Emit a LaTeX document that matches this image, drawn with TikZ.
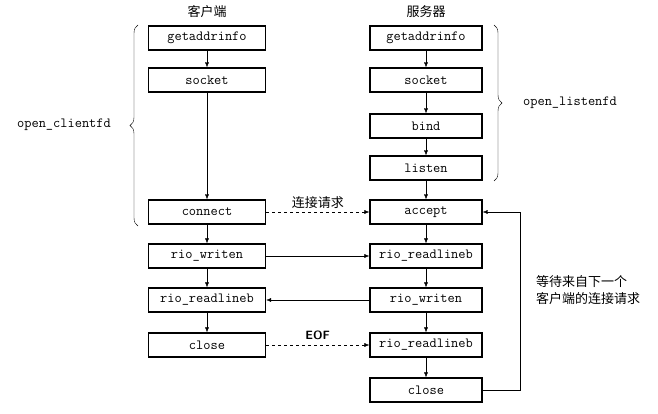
\documentclass[tikz,border=0pt]{standalone}
\usepackage{fontspec}
\newfontfamily\cjk{Noto Sans CJK SC}[BoldFont={Noto Sans CJK SC Bold}]
\usetikzlibrary{arrows.meta,decorations.pathreplacing}

\begin{document}
\begin{tikzpicture}[x=1pt,y=-1pt,
  box/.style={draw,line width=1.3pt,minimum height=24pt,font=\ttfamily\fontsize{14}{14}\selectfont,inner sep=2pt},
  cbox/.style={box,minimum width=117pt},
  sbox/.style={box,minimum width=112pt},
  flow/.style={-{Latex[length=5pt,width=4pt]},thin},
  msg/.style={flow,dashed},
  lbl/.style={font=\cjk\fontsize{13}{17}\selectfont}]
  \useasboundingbox (0,0) rectangle (658,414);

% column headings
  \node[lbl] (chead) at (207,12) {客户端};
  \node[lbl] (shead) at (426,12) {服务器};

% client side
  \node[cbox] (cgai)  at (207,38)  {getaddrinfo};
  \node[cbox] (csock) at (207,80)  {socket};
  \node[cbox] (cconn) at (207,212) {connect};
  \node[cbox] (cwr)   at (207,256) {rio\_writen};
  \node[cbox] (crd)   at (207,300) {rio\_readlineb};
  \node[cbox] (ccl)   at (207,345) {close};

% server side
  \node[sbox] (sgai)  at (426,38)  {getaddrinfo};
  \node[sbox] (ssock) at (426,80)  {socket};
  \node[sbox] (sbind) at (426,126) {bind};
  \node[sbox] (slist) at (426,168) {listen};
  \node[sbox] (sacc)  at (426,212) {accept};
  \node[sbox] (srd)   at (426,256) {rio\_readlineb};
  \node[sbox] (swr)   at (426,300) {rio\_writen};
  \node[sbox] (srd2)  at (426,345) {rio\_readlineb};
  \node[sbox] (scl)   at (426,390) {close};

% vertical flow
  \foreach \a/\b in {cgai/csock,csock/cconn,cconn/cwr,cwr/crd,crd/ccl,
                     sgai/ssock,ssock/sbind,sbind/slist,slist/sacc,sacc/srd,srd/swr,swr/srd2,srd2/scl}
    \draw[flow] (\a) -- (\b);

% messages
  \draw[msg] (cconn) -- node[lbl,above] {连接请求} (sacc);
  \draw[flow] (cwr) -- (srd);
  \draw[flow] (swr) -- (crd);
  \draw[msg] (ccl) -- node[above,font=\sffamily\bfseries\fontsize{12}{12}\selectfont,yshift=2pt] {EOF} (srd2);

% loop back
  \coordinate (back) at (520,390);
  \draw[flow] (scl.east) -- (back) |- (sacc.east);
  \node[lbl,align=left] (wait) at (588,290) {等待来自下一个\\客户端的连接请求};

% braces
  \draw[decorate,decoration={brace,amplitude=8pt}] (138,226) -- (138,25);
  \node[font=\ttfamily\fontsize{14}{14}\selectfont] (ocf) at (64,125) {open\_clientfd};
  \draw[decorate,decoration={brace,amplitude=8pt}] (494,25) -- (494,181);
  \node[font=\ttfamily\fontsize{14}{14}\selectfont] (olf) at (570,103) {open\_listenfd};
\end{tikzpicture}
\end{document}
